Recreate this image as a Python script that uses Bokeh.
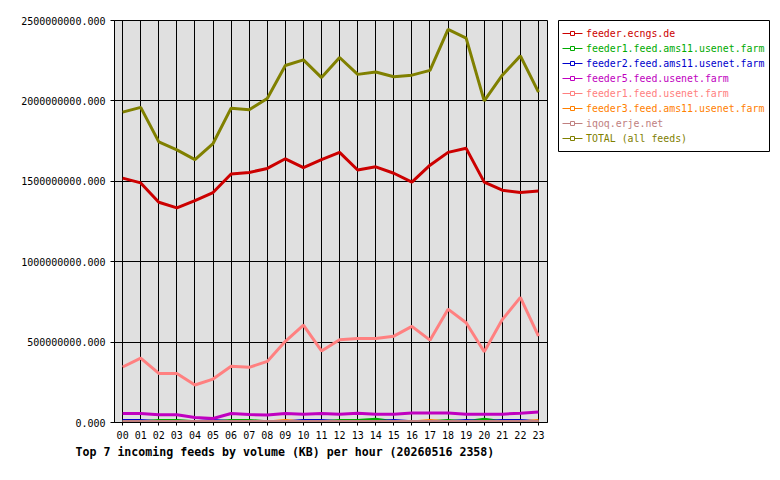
from bokeh.plotting import figure
from bokeh.models import (ColumnDataSource, Range1d, FixedTicker, PrintfTickFormatter, Title)
from bokeh.layouts import row
from bokeh.core.properties import value
from bokeh.embed import file_html
from bokeh.resources import INLINE

hours = ["00", "01", "02", "03", "04", "05", "06", "07", "08", "09", "10", "11",
         "12", "13", "14", "15", "16", "17", "18", "19", "20", "21", "22", "23"]

# values in millions (KB)
feeder_ecngs = [1520, 1490, 1370, 1335, 1380, 1430, 1545, 1555, 1580, 1640, 1585, 1635,
                1680, 1570, 1590, 1550, 1495, 1600, 1680, 1705, 1495, 1445, 1430, 1440]
feeder1_ams11 = [5, 5, 12, 12, 5, 5, 12, 12, 5, 5, 5, 5,
                 12, 12, 20, 5, 5, 5, 12, 5, 20, 5, 5, 5]
feeder2_ams11 = [12, 12, 5, 5, 5, 12, 5, 5, 5, 5, 12, 12,
                 5, 5, 5, 12, 5, 5, 5, 12, 5, 12, 12, 5]
feeder5_usenet = [56, 56, 48, 48, 31, 25, 56, 50, 46, 56, 52, 56,
                  52, 58, 52, 52, 59, 59, 59, 52, 52, 52, 58, 65]
feeder1_usenet = [345, 400, 305, 305, 233, 270, 350, 343, 380, 505, 605, 445,
                  515, 522, 522, 537, 598, 512, 705, 620, 440, 640, 778, 537]
feeder3_ams11 = [3, 3, 3, 3, 3, 3, 3, 3, 3, 12, 3, 3,
                 3, 3, 3, 3, 3, 12, 3, 3, 3, 3, 3, 12]
iqoq = [6, 6, 6, 6, 6, 6, 6, 6, 6, 6, 6, 6,
        6, 6, 6, 6, 6, 6, 6, 6, 6, 6, 6, 6]
total = [1930, 1960, 1745, 1695, 1635, 1735, 1955, 1945, 2015, 2220, 2255, 2145,
         2270, 2165, 2180, 2150, 2160, 2190, 2445, 2390, 2000, 2160, 2280, 2055]

series_names = ["feeder.ecngs.de", "feeder1.feed.ams11.usenet.farm",
                "feeder2.feed.ams11.usenet.farm", "feeder5.feed.usenet.farm",
                "feeder1.feed.usenet.farm", "feeder3.feed.ams11.usenet.farm",
                "iqoq.erje.net", "TOTAL (all feeds)"]
series_values = [feeder_ecngs, feeder1_ams11, feeder2_ams11, feeder5_usenet,
                 feeder1_usenet, feeder3_ams11, iqoq, total]
series_colors = ["#cc0000", "#00aa00", "#0000cc", "#c000c0",
                 "#ff8080", "#ff8000", "#c08080", "#808000"]
y_ticks = [0, 500e6, 1000e6, 1500e6, 2000e6, 2500e6]
title_text = "Top 7 incoming feeds by volume (KB) per hour (20260516 2358)"

MONO = "DejaVu Sans Mono"

# ---------------- main chart ----------------
p = figure(width=550, height=472, output_backend="svg", toolbar_location=None,
           x_range=Range1d(-0.45, 23.5), y_range=Range1d(0, 2500e6),
           min_border_left=114, min_border_right=3, min_border_top=20,
           min_border_bottom=50)
p.background_fill_color = "#e0e0e0"
p.border_fill_color = "white"
p.outline_line_color = "black"
p.outline_line_width = 1
p.outline_line_alpha = 1

x_idx = list(range(len(hours)))
p.xaxis.ticker = FixedTicker(ticks=x_idx)
p.xaxis.major_label_overrides = {i: h for i, h in enumerate(hours)}
p.yaxis.ticker = FixedTicker(ticks=y_ticks)
p.yaxis.formatter = PrintfTickFormatter(format="%.3f")
for ax in (p.xaxis[0], p.yaxis[0]):
    ax.axis_line_color = "black"
    ax.major_tick_line_color = "black"
    ax.minor_tick_line_color = None
    ax.major_tick_in = 0
    ax.major_label_text_font = MONO
    ax.major_label_text_font_size = "10px"
    ax.major_label_text_color = "black"
p.xaxis.major_tick_out = 3
p.xaxis.major_label_standoff = 5
p.yaxis.major_tick_out = 4
p.yaxis.major_label_standoff = 5

p.xgrid.grid_line_color = "black"
p.ygrid.grid_line_color = "black"
p.xgrid.grid_line_alpha = 1
p.ygrid.grid_line_alpha = 1

for name, vals, col in zip(series_names, series_values, series_colors):
    src = ColumnDataSource(dict(x=x_idx, y=[v * 1e6 for v in vals]))
    p.line("x", "y", source=src, line_color=col, line_width=3)

p.add_layout(Title(text=title_text, align="left", offset=-39, standoff=2,
                   text_font=MONO, text_font_style="bold", text_font_size="11.6px",
                   text_color="black"), "below")

# ---------------- legend box ----------------
LW, LH, ROW = 211, 131, 15
lg = figure(frame_width=LW, frame_height=LH, output_backend="svg", toolbar_location=None,
            x_range=Range1d(0, LW), y_range=Range1d(0, LH),
            min_border_left=8, min_border_right=3, min_border_top=20, min_border_bottom=1)
lg.axis.visible = False
lg.grid.visible = False
lg.outline_line_color = "black"
lg.outline_line_alpha = 1
lg.background_fill_color = "white"
lg.border_fill_color = "white"

n = len(series_names)
row_y = [LH - 13 - ROW * i for i in range(n)]
lsrc = ColumnDataSource(dict(x0=[4] * n, x1=[24] * n, xm=[14] * n, xt=[27.5] * n,
                             y=row_y, name=series_names, color=series_colors))
lg.segment(x0="x0", y0="y", x1="x1", y1="y", source=lsrc, line_color="color", line_width=1)
lg.scatter(x="xm", y="y", source=lsrc, marker="square", size=4, line_color="color",
           fill_color="white", line_width=1)
lg.text(x="xt", y="y", text="name", source=lsrc, text_color="color",
        text_font=value(MONO), text_font_size="9.9px", text_baseline="middle",
        text_align="left")

layout = row(p, lg)
open("out.html", "w").write(file_html(layout, INLINE))
